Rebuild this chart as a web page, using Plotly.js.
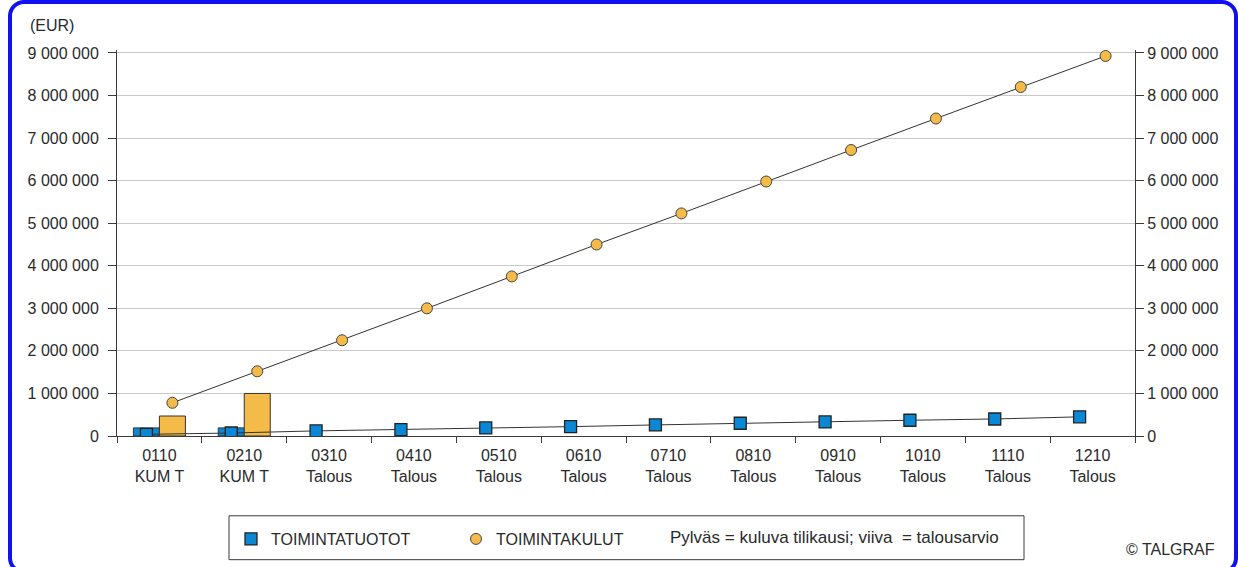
<!DOCTYPE html>
<html>
<head>
<meta charset="utf-8">
<script src="https://cdn.plot.ly/plotly-3.0.1.min.js"></script>
<style>
  html, body { margin: 0; padding: 0; background: #ffffff; overflow: hidden; }
  #chart { position: absolute; left: 0; top: 0; width: 1238px; height: 567px; }
  #frame { position: absolute; left: 8px; top: 0px; width: 1222px; height: 566px;
           border: 4px solid #1010f0; border-radius: 16px; pointer-events: none; z-index: 10; }
</style>
</head>
<body>
<div id="chart"></div>
<div id="frame"></div>
<script>
// ---- data ----
const months = ['0110','0210','0310','0410','0510','0610','0710','0810','0910','1010','1110','1210'];
const subLabels = ['KUM T','KUM T','Talous','Talous','Talous','Talous','Talous','Talous','Talous','Talous','Talous','Talous'];
// actual (bars) - current fiscal year
const tuototActual = [190000, 190000];
const kulutActual = [470000, 1000000];
// budget (lines)
const tuototBudget = [40000, 70000, 120000, 150000, 190000, 220000, 260000, 300000, 330000, 370000, 400000, 450000];
const kulutBudget = [780000, 1520000, 2250000, 3000000, 3750000, 4500000, 5230000, 5980000, 6720000, 7460000, 8200000, 8930000];
const seriesNames = ['TOIMINTATUOTOT', 'TOIMINTAKULUT'];
const noteText = 'Pylväs = kuluva tilikausi; viiva\u00a0 = talousarvio';

const blue = '#0a88d6';
const orange = '#f4bb48';
const FONT = 'Liberation Sans, Arial, sans-serif';
const textColor = '#2a2a2a';

const ticktext = months.map((m, i) => m + '<br>' + subLabels[i]);

const traces = [
  { type: 'bar', x: months.slice(0, tuototActual.length), y: tuototActual, offsetgroup: 'a',
    marker: { color: blue, line: { color: '#333', width: 1 } }, showlegend: false, hoverinfo: 'skip' },
  { type: 'bar', x: months.slice(0, kulutActual.length), y: kulutActual, offsetgroup: 'b',
    marker: { color: orange, line: { color: '#333', width: 1 } }, showlegend: false, hoverinfo: 'skip' },
  { type: 'scatter', mode: 'lines', x: months, y: tuototBudget, offsetgroup: 'a',
    line: { color: '#333', width: 1 }, showlegend: false, hoverinfo: 'skip' },
  { type: 'scatter', mode: 'lines', x: months, y: kulutBudget, offsetgroup: 'b',
    line: { color: '#333', width: 1 }, showlegend: false, hoverinfo: 'skip' },
  { type: 'scatter', mode: 'markers', x: months, y: tuototBudget, offsetgroup: 'a', name: seriesNames[0],
    marker: { symbol: 'square', size: 12, color: blue, line: { color: '#222', width: 1.3 } } },
  { type: 'scatter', mode: 'markers', x: months, y: kulutBudget, offsetgroup: 'b', name: seriesNames[1],
    marker: { symbol: 'circle', size: 11, color: orange, line: { color: '#444', width: 1 } } }
];

const W = 1238, H = 567;
const L = 117, R = 103, T = 50, B = 130;
const pw = W - L - R, ph = H - T - B;
const px = v => (v - L) / pw;
const py = v => (H - B - v) / ph;

const yAxisCommon = {
  range: [0, 9070000], dtick: 1000000, tick0: 0, tickformat: ',d',
  showgrid: true, gridcolor: '#c8c8c8', gridwidth: 1, zeroline: false,
  showline: true, linecolor: '#3a3a3a', linewidth: 1,
  ticks: 'outside', ticklen: 8, tickcolor: '#3a3a3a', tickwidth: 1,
  tickfont: { family: FONT, size: 16, color: textColor }, fixedrange: true
};

const layout = {
  width: W, height: H,
  margin: { l: L, r: R, t: T, b: B, pad: 0 },
  paper_bgcolor: '#ffffff', plot_bgcolor: '#ffffff',
  separators: ', ',
  barmode: 'group', bargap: 0.387, bargroupgap: 0,
  scattermode: 'group', scattergap: 0.387,
  font: { family: FONT, size: 16, color: textColor },
  xaxis: {
    type: 'category', categoryarray: months, categoryorder: 'array',
    tickvals: months, ticktext: ticktext, tickson: 'boundaries',
    range: [-0.5, months.length - 0.5],
    showline: true, linecolor: '#3a3a3a', linewidth: 1, showgrid: false,
    ticks: 'outside', ticklen: 6, tickcolor: '#3a3a3a', ticklabelstandoff: 5,
    tickfont: { family: FONT, size: 16, color: textColor }, fixedrange: true
  },
  yaxis: Object.assign({}, yAxisCommon, { side: 'left', ticklabelstandoff: 6 }),
  yaxis2: Object.assign({}, yAxisCommon, { side: 'right', overlaying: 'y', showgrid: false }),
  showlegend: true,
  legend: {
    orientation: 'h', x: px(231), xanchor: 'left', y: py(539), yanchor: 'middle',
    bgcolor: 'rgba(0,0,0,0)', borderwidth: 0,
    font: { family: FONT, size: 16, color: textColor },
    entrywidth: 180, entrywidthmode: 'pixels', traceorder: 'normal', itemclick: false
  },
  shapes: [
    { type: 'rect', xref: 'paper', yref: 'paper', x0: px(229), x1: px(1024), y0: py(561), y1: py(517),
      line: { color: '#3a3a3a', width: 1 }, fillcolor: 'rgba(0,0,0,0)' }
  ],
  annotations: [
    { xref: 'paper', yref: 'paper', x: px(28), y: py(25), xanchor: 'left', yanchor: 'middle',
      text: '(EUR)', showarrow: false, font: { family: FONT, size: 16, color: textColor } },
    { xref: 'paper', yref: 'paper', x: px(668), y: py(539), xanchor: 'left', yanchor: 'middle',
      text: noteText, showarrow: false, font: { family: FONT, size: 17, color: textColor } },
    { xref: 'paper', yref: 'paper', x: px(1217), y: py(551), xanchor: 'right', yanchor: 'middle',
      text: '\u00a9 TALGRAF', showarrow: false, font: { family: FONT, size: 16, color: textColor } }
  ]
};

// invisible trace on the right axis so it mirrors the left scale
traces.push({ type: 'scatter', mode: 'none', x: months, y: kulutBudget, yaxis: 'y2', showlegend: false, hoverinfo: 'skip' });

Plotly.newPlot('chart', traces, layout, { displayModeBar: false, staticPlot: true });
</script>
</body>
</html>
